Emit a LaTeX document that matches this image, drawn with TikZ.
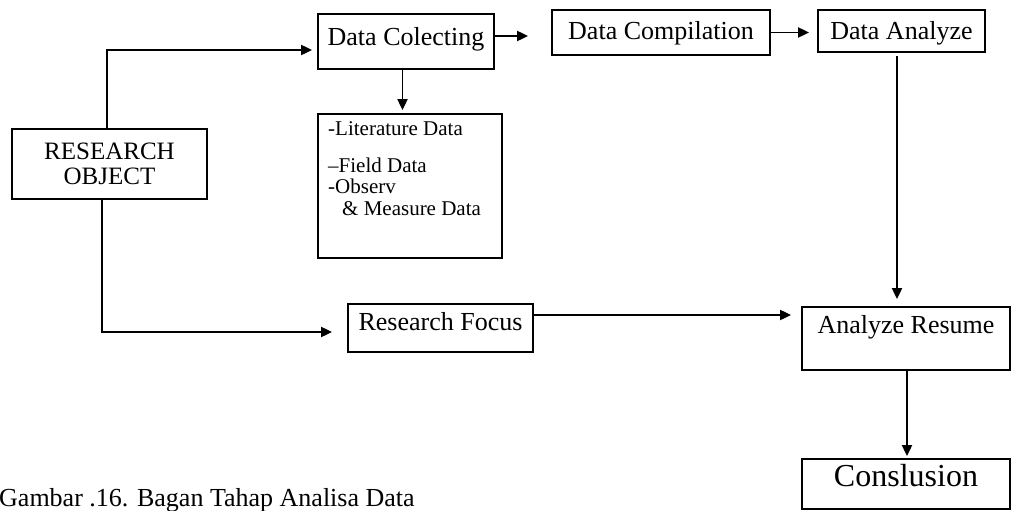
\documentclass[tikz,border=0pt]{standalone}
\usepackage{fontspec}
\setmainfont{Liberation Serif}
\usetikzlibrary{arrows.meta}
\begin{document}
\begin{tikzpicture}[x=1pt,y=-1pt,
  box/.style={draw, line width=1.8pt, inner sep=0pt, font=\fontsize{26}{26}\selectfont},
  arr/.style={line width=1.9pt, -{Triangle[length=11pt,width=10pt]}}]
\useasboundingbox (0,0) rectangle (1012,511);

% boxes
\node[box, minimum width=195pt, minimum height=70pt, align=center,
      font=\fontsize{25}{25}\selectfont] (ro) at (109.5,164) {RESEARCH\\OBJECT};
\node[box, minimum width=176pt, text height=32pt, text depth=23pt] (dc) at (406,41.5) {Data Colecting};
\node[box, minimum width=218pt, text height=30pt, text depth=15pt] (comp) at (661,32.5) {Data Compilation};
\node[box, minimum width=167pt, text height=30pt, text depth=12pt] (an) at (901.5,31) {Data Analyze};
\node[box, minimum width=185pt, text height=26pt, text depth=22pt] (rf) at (440.5,328) {Research Focus};
\node[box, minimum width=208pt, text height=26pt, text depth=37pt] (ar) at (906,338.5) {Analyze Resume};
\node[box, minimum width=208pt, text height=27pt, text depth=23pt,
      font=\fontsize{32}{32}\selectfont] (con) at (906,484) {Conslusion};
\node[box, minimum width=184pt, minimum height=144pt] (lit) at (410,186) {};
\node[anchor=north west, inner sep=0pt, align=left,
      font=\fontsize{21}{21.5}\selectfont] (littext) at (328,121)
  {-Literature Data\\[15.5pt]--Field Data\\-Observ\\\hspace*{14pt}\& Measure Data};

% caption
\node[anchor=base west, inner sep=0pt, font=\fontsize{26}{26}\selectfont] (caption) at (-1,506)
  {Gambar .16. Bagan Tahap Analisa Data};

% connectors
\draw[arr, shorten >=5pt] ([xshift=-2.5pt]ro.north) |- ([yshift=-8.5pt]dc.west);
\draw[arr, shorten >=23pt] ([yshift=5.5pt]dc.east) -- ([yshift=5.5pt]dc.east -| comp.west);
\draw[arr, shorten >=8pt] (comp.east) -- (comp.east -| an.west);
\draw[arr, shorten >=3pt] ([xshift=-3.5pt]dc.south) -- ([xshift=-3.5pt]dc.south |- lit.north);
\draw[arr, shorten <=3pt, shorten >=7pt] ([xshift=-4.5pt]an.south) -- ([xshift=-4.5pt]an.south |- ar.north);
\draw[arr, shorten >=15pt] ([xshift=-7.5pt]ro.south) |- ([yshift=-4pt]rf.west);
\draw[arr, shorten >=10pt] ([yshift=13pt]rf.east) -- ([yshift=13pt]rf.east -| ar.west);
\draw[arr, shorten >=2pt] ([xshift=1pt]ar.south) -- ([xshift=1pt]ar.south |- con.north);
\end{tikzpicture}
\end{document}
